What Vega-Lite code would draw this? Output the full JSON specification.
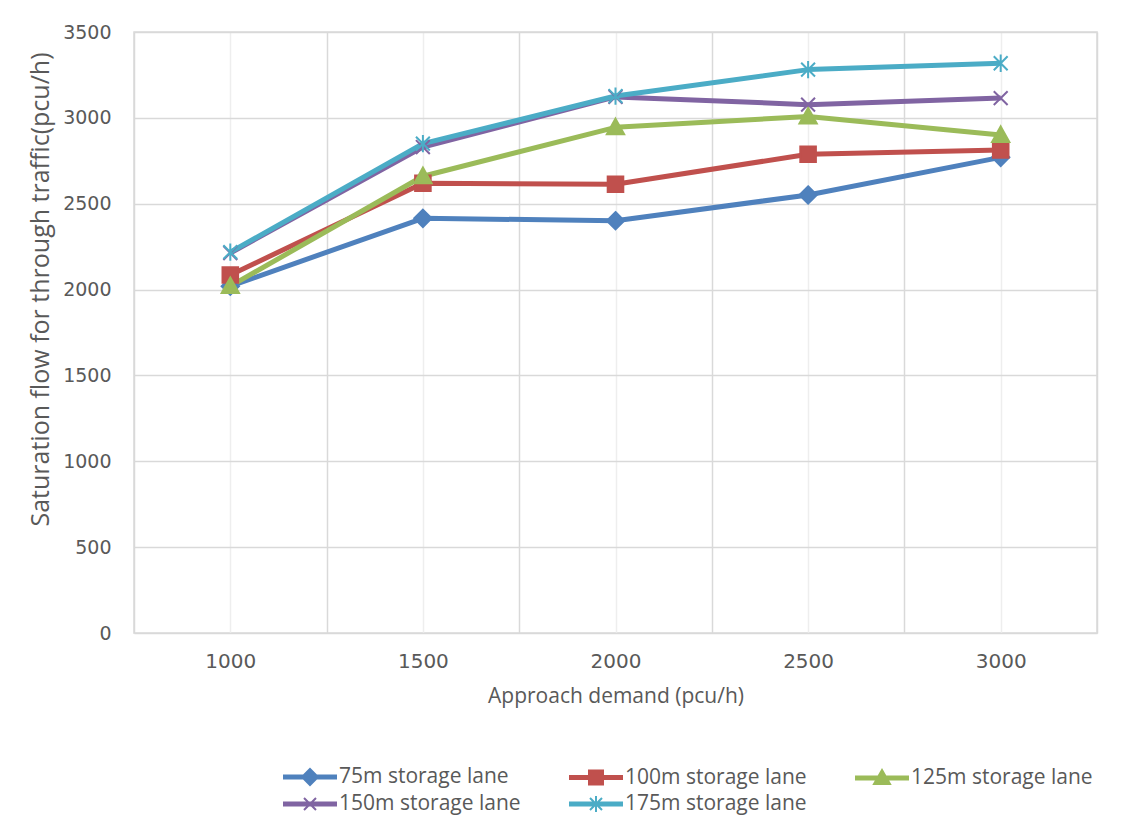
{
  "$schema": "https://vega.github.io/schema/vega-lite/v6.json",
  "autosize": {"type": "none"},
  "width": 963,
  "height": 601,
  "padding": {"left": 134, "top": 32, "right": 44, "bottom": 184},
  "background": "white",
  "config": {
    "view": {"stroke": "#d9d9d9", "strokeWidth": 1.5},
    "font": "Open Sans"
  },
  "data": {
    "values": [
      {"series": "75m storage lane", "demand": 1000, "flow": 2020},
      {"series": "75m storage lane", "demand": 1500, "flow": 2415},
      {"series": "75m storage lane", "demand": 2000, "flow": 2401},
      {"series": "75m storage lane", "demand": 2500, "flow": 2551},
      {"series": "75m storage lane", "demand": 3000, "flow": 2770},
      {"series": "100m storage lane", "demand": 1000, "flow": 2085},
      {"series": "100m storage lane", "demand": 1500, "flow": 2619},
      {"series": "100m storage lane", "demand": 2000, "flow": 2613},
      {"series": "100m storage lane", "demand": 2500, "flow": 2788},
      {"series": "100m storage lane", "demand": 3000, "flow": 2813},
      {"series": "125m storage lane", "demand": 1000, "flow": 2020},
      {"series": "125m storage lane", "demand": 1500, "flow": 2660},
      {"series": "125m storage lane", "demand": 2000, "flow": 2945},
      {"series": "125m storage lane", "demand": 2500, "flow": 3008},
      {"series": "125m storage lane", "demand": 3000, "flow": 2900},
      {"series": "150m storage lane", "demand": 1000, "flow": 2213},
      {"series": "150m storage lane", "demand": 1500, "flow": 2830},
      {"series": "150m storage lane", "demand": 2000, "flow": 3122},
      {"series": "150m storage lane", "demand": 2500, "flow": 3077},
      {"series": "150m storage lane", "demand": 3000, "flow": 3115},
      {"series": "175m storage lane", "demand": 1000, "flow": 2218},
      {"series": "175m storage lane", "demand": 1500, "flow": 2850},
      {"series": "175m storage lane", "demand": 2000, "flow": 3127},
      {"series": "175m storage lane", "demand": 2500, "flow": 3281},
      {"series": "175m storage lane", "demand": 3000, "flow": 3318}
    ]
  },
  "encoding": {
    "x": {
      "field": "demand",
      "type": "quantitative",
      "scale": {"domain": [750, 3250], "nice": false, "zero": false},
      "axis": {
        "title": "Approach demand (pcu/h)",
        "values": [750, 1000, 1250, 1500, 1750, 2000, 2250, 2500, 2750, 3000, 3250],
        "labelExpr": "datum.value % 500 === 0 ? datum.value : ''",
        "grid": true,
        "gridColor": {"condition": {"test": "datum.value % 500 === 0", "value": "#eeeeee"}, "value": "#d9d9d9"},
        "gridWidth": 1.5,
        "domain": false,
        "ticks": false,
        "labelFont": "DejaVu Sans",
        "labelFontSize": 20,
        "labelColor": "#595959",
        "labelPadding": 18,
        "titleFont": "Open Sans",
        "titleFontSize": 21,
        "titleFontWeight": "normal",
        "titleColor": "#595959",
        "titlePadding": 14
      }
    },
    "y": {
      "field": "flow",
      "type": "quantitative",
      "scale": {"domain": [0, 3500], "nice": false},
      "axis": {
        "title": "Saturation flow for through traffic(pcu/h)",
        "values": [0, 500, 1000, 1500, 2000, 2500, 3000, 3500],
        "format": "d",
        "grid": true,
        "gridColor": "#d9d9d9",
        "gridWidth": 1.5,
        "domain": false,
        "ticks": false,
        "labelFont": "DejaVu Sans",
        "labelFontSize": 19,
        "labelColor": "#595959",
        "labelPadding": 23,
        "titleFont": "Open Sans",
        "titleFontSize": 25,
        "titleFontWeight": "normal",
        "titleColor": "#595959",
        "titleAngle": -90,
        "titleAlign": "center",
        "titleBaseline": "middle",
        "titleX": -94,
        "titleY": 257
      }
    }
  },
  "layer": [
    {
      "mark": {"type": "line", "strokeWidth": 5, "strokeJoin": "round"},
      "encoding": {
        "color": {
          "field": "series",
          "type": "nominal",
          "sort": null,
          "scale": {
            "domain": ["75m storage lane", "100m storage lane", "125m storage lane", "150m storage lane", "175m storage lane"],
            "range": ["#4F81BD", "#C0504D", "#9BBB59", "#8064A2", "#4BACC6"]
          },
          "legend": {
            "orient": "none",
            "legendX": 149,
            "legendY": 734,
            "direction": "horizontal",
            "columns": 3,
            "title": null,
            "labelFont": "Open Sans",
            "labelFontSize": 21,
            "labelColor": "#595959",
            "labelOffset": 34,
            "labelLimit": 400,
            "columnPadding": 45,
            "rowPadding": 3,
            "symbolSize": 400,
            "symbolStrokeWidth": 2,
            "encode": {
              "symbols": {
                "update": {
                  "shape": {"signal": "['M-1,-0.15H4.2V0.15H-1Z M1.6,-0.8L2.4,0L1.6,0.8L0.8,0Z', 'M-1,-0.15H4.2V0.15H-1Z M0.9,-0.7H2.3V0.7H0.9Z', 'M-1,-0.15H4.2V0.15H-1Z M1.6,-0.8L2.4,0.6L0.8,0.6Z', 'M-1,-0.15H4.2V0.15H-1Z M1,-0.6L2.2,0.6M1,0.6L2.2,-0.6', 'M-1,-0.15H4.2V0.15H-1Z M1,-0.6L2.2,0.6M1,0.6L2.2,-0.6M1.6,-0.8V0.8'][datum.index]"},
                  "size": {"value": 400},
                  "fill": {"scale": "color", "field": "value"},
                  "stroke": {"scale": "color", "field": "value"},
                  "strokeWidth": {"value": 2},
                  "opacity": {"value": 1}
                }
              }
            }
          }
        }
      }
    },
    {
      "transform": [{"filter": "datum.series === '75m storage lane'"}],
      "mark": {"type": "point", "shape": "M0,-1L1,0L0,1L-1,0Z", "filled": true, "color": "#4F81BD", "stroke": "#4F81BD", "size": 300, "strokeWidth": 2, "opacity": 1}
    },
    {
      "transform": [{"filter": "datum.series === '100m storage lane'"}],
      "mark": {"type": "point", "shape": "M-0.9,-0.9H0.9V0.9H-0.9Z", "filled": true, "color": "#C0504D", "stroke": "#C0504D", "size": 300, "strokeWidth": 2, "opacity": 1}
    },
    {
      "transform": [{"filter": "datum.series === '125m storage lane'"}],
      "mark": {"type": "point", "shape": "M0,-1L1,0.8L-1,0.8Z", "filled": true, "color": "#9BBB59", "stroke": "#9BBB59", "size": 300, "strokeWidth": 2, "opacity": 1}
    },
    {
      "transform": [{"filter": "datum.series === '150m storage lane'"}],
      "mark": {"type": "point", "shape": "M-0.8,-0.8L0.8,0.8M-0.8,0.8L0.8,-0.8", "filled": false, "color": "#8064A2", "size": 300, "strokeWidth": 2, "opacity": 1}
    },
    {
      "transform": [{"filter": "datum.series === '175m storage lane'"}],
      "mark": {"type": "point", "shape": "M-0.8,-0.8L0.8,0.8M-0.8,0.8L0.8,-0.8M0,-1V1", "filled": false, "color": "#4BACC6", "size": 300, "strokeWidth": 2, "opacity": 1}
    }
  ]
}
